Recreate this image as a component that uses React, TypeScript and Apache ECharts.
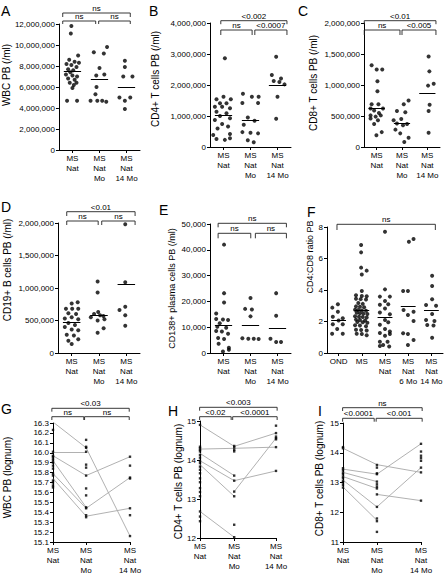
import React, { useEffect, useRef } from "react";
import * as echarts from "echarts";

const FONT = "'Liberation Sans', Arial, Helvetica, sans-serif";

// ---------- categories ----------
const CATS_3 = ["MS\nNat", "MS\nNat\nMo", "MS\nNat\n14 Mo"];
const CATS_F = ["OND", "MS", "MS\nNat", "MS\nNat\n6 Mo", "MS\nNat\n14 Mo"];

// ---------- A: WBC (millions /ml) ----------
const A_NAT = [11.8, 11.1, 9.0, 8.6, 8.4, 8.3, 8.2, 8.1, 7.9, 7.7, 7.6, 7.4, 7.2, 7.1, 7.0, 6.8, 6.7, 6.4, 6.4, 6.2, 5.9, 4.7, 4.7];
const A_NAT_DX = [-0.04, -0.06, 0.21, -0.12, 0.08, 0.24, -0.22, -0.04, 0.15, -0.16, 0.03, -0.08, -0.24, 0.0, 0.17, -0.16, 0.08, -0.1, 0.15, 0.05, 0.0, -0.2, 0.17];
const A_MO = [9.8, 9.3, 9.2, 7.8, 7.2, 7.1, 6.0, 5.3, 4.7, 4.7, 4.7, 4.6];
const A_MO_DX = [0.28, -0.21, 0.16, 0.0, 0.18, -0.12, -0.11, -0.15, -0.33, -0.08, 0.1, 0.25];
const A_14 = [8.5, 7.9, 7.0, 7.0, 5.0, 5.0, 4.7, 3.9];
const A_14_DX = [-0.06, -0.06, -0.12, 0.22, -0.26, 0.14, -0.06, -0.06];
const A_MED = [7.5, 6.7, 6.0];

// ---------- B: CD4+ (millions /ml) ----------
const B_NAT = [2.86, 1.62, 1.54, 1.54, 1.41, 1.41, 1.3, 1.3, 1.25, 1.14, 1.09, 1.0, 0.93, 0.87, 0.74, 0.66, 0.6, 0.42, 0.39, 0.28, 0.26, 0.23];
const B_NAT_DX = [0.05, 0, 0.27, -0.26, -0.13, 0.11, -0.32, -0.05, 0.24, -0.26, 0.11, -0.13, 0.24, -0.32, -0.05, 0.17, -0.22, 0.24, -0.38, 0.24, -0.26, 0.05];
const B_MO = [1.72, 1.62, 1.62, 1.42, 1.42, 0.95, 0.85, 0.72, 0.48, 0.46, 0.44, 0.22, 0.15];
const B_MO_DX = [-0.28, 0.05, 0.3, -0.3, 0.28, -0.1, 0.15, -0.25, -0.3, 0.0, 0.28, -0.1, 0.12];
const B_14 = [2.91, 2.32, 2.21, 2.13, 2.1, 2.02, 1.62, 0.91];
const B_14_DX = [-0.05, -0.21, 0.13, -0.14, 0.07, 0.26, 0, -0.05];
const B_MED = [1.04, 0.85, 2.0];

// ---------- C: CD8+ (millions /ml) ----------
const C_NAT = [1.32, 1.25, 1.25, 1.06, 0.9, 0.69, 0.69, 0.62, 0.62, 0.59, 0.55, 0.51, 0.49, 0.51, 0.46, 0.43, 0.37, 0.24, 0.19];
const C_NAT_DX = [-0.2, 0, 0.22, 0.03, 0.03, -0.2, 0.07, -0.24, 0.25, -0.1, 0.09, -0.24, -0.04, 0.16, -0.24, 0.05, -0.1, 0.2, -0.01];
const C_MO = [0.75, 0.69, 0.58, 0.56, 0.45, 0.43, 0.38, 0.37, 0.35, 0.28, 0.22, 0.15, 0.08];
const C_MO_DX = [0.26, 0.07, -0.2, 0.13, -0.03, -0.33, -0.2, 0.2, 0.04, -0.26, -0.07, 0.26, 0.09];
const C_14 = [1.46, 1.22, 1.02, 0.99, 0.68, 0.58, 0.23];
const C_14_DX = [0.05, 0.08, 0.25, 0.03, 0.09, 0.05, 0.05];
const C_MED = [0.63, 0.38, 0.87];

// ---------- D: CD19+ (millions /ml) ----------
const D_NAT = [0.78, 0.76, 0.68, 0.68, 0.68, 0.61, 0.6, 0.55, 0.53, 0.52, 0.46, 0.43, 0.4, 0.36, 0.35, 0.28, 0.27, 0.21, 0.19, 0.14];
const D_NAT_DX = [0.22, 0, -0.21, 0.02, 0.24, -0.12, 0.16, 0, -0.25, 0.24, -0.12, 0.12, -0.25, 0, 0.24, -0.18, 0.08, 0.24, -0.12, 0];
const D_MO = [1.1, 0.93, 0.63, 0.6, 0.58, 0.57, 0.55, 0.52, 0.5, 0.38, 0.31];
const D_MO_DX = [-0.05, -0.05, -0.03, -0.18, 0.04, 0.16, -0.3, 0.2, -0.05, 0.17, -0.05];
const D_14 = [1.98, 1.09, 0.71, 0.66, 0.58, 0.42];
const D_14_DX = [-0.04, -0.04, -0.04, -0.25, -0.04, -0.04];
const D_MED = [0.47, 0.58, 1.06];

// ---------- E: CD138+ (thousands /ml) ----------
const E_NAT = [42, 23.2, 19.6, 15.3, 13.2, 13.0, 12.8, 11.5, 10.2, 9.8, 8.5, 8.3, 7.5, 5.8, 5.4, 3.6, 2.0, 1.3, 0.6];
const E_NAT_DX = [0.02, 0.02, 0.02, -0.27, -0.27, -0.02, 0.17, -0.14, -0.23, 0.1, -0.27, -0.06, 0.17, -0.2, 0.02, -0.18, 0.2, 0.2, -0.02];
const E_MO = [21.3, 17.1, 16.9, 14.2, 5.7, 5.5, 5.5, 5.4];
const E_MO_DX = [0.0, -0.2, 0.05, 0.0, -0.3, -0.08, 0.12, 0.3];
const E_14 = [23.2, 14.4, 5.5, 4.3, 4.3];
const E_14_DX = [-0.05, -0.05, -0.26, -0.05, 0.13];
const E_MED = [10.6, 10.6, 9.7];

// ---------- F: CD4:CD8 ratio ----------
const F_OND = [3.1, 2.88, 2.62, 2.3, 2.2, 2.07, 1.82, 1.82, 1.52, 1.22, 1.22];
const F_OND_DX = [-0.03, -0.27, -0.03, -0.25, 0.18, 0.0, -0.25, 0.18, -0.06, -0.28, 0.18];
const F_MS = [6.86, 6.39, 5.42, 5.23, 4.99, 3.94, 3.66, 3.62, 3.6, 3.45, 3.42, 3.4, 3.17, 3.12, 2.96, 2.93, 2.9, 2.75, 2.73, 2.7, 2.68, 2.55, 2.52, 2.5, 2.47, 2.33, 2.3, 2.28, 2.26, 2.12, 2.1, 2.06, 1.97, 1.95, 1.92, 1.76, 1.74, 1.7, 1.48, 1.46, 1.43, 1.22, 1.2, 1.13];
const F_MS_DX = [-0.03, -0.03, -0.03, 0.21, 0, 0, -0.25, 0, 0.21, -0.25, -0.05, 0.18, -0.15, 0.04, -0.25, -0.08, 0.1, -0.29, -0.15, 0, 0.18, -0.22, -0.08, 0.07, 0.24, -0.29, -0.12, 0.04, 0.21, -0.25, -0.08, 0.14, -0.19, 0.04, 0.24, -0.29, -0.08, 0.18, -0.25, -0.03, 0.21, -0.22, 0, 0.21];
const F_NAT = [7.7, 4.04, 3.58, 3.58, 3.3, 3.1, 3.07, 2.83, 2.57, 2.46, 2.1, 1.95, 1.8, 1.52, 1.36, 1.27, 1.2, 1.1, 0.72, 0.72, 0.51, 0.45, 0.41];
const F_NAT_DX = [0, 0, -0.22, 0.21, 0, 0.14, -0.22, 0, -0.22, 0.21, 0, 0.14, -0.22, 0, 0.21, -0.22, 0.21, 0, -0.22, 0.11, -0.08, -0.22, 0.18];
const F_6 = [7.24, 7.07, 3.94, 3.94, 2.73, 2.62, 2.41, 2.03, 1.25, 1.2, 0.83, 0.51];
const F_6_DX = [0.23, 0.03, -0.22, -0.01, -0.2, 0.23, -0.01, 0.23, -0.22, -0.01, 0.23, -0.01];
const F_14 = [4.91, 4.25, 3.41, 3.05, 3.0, 2.48, 2.1, 2.03, 1.78, 1.74, 0.97];
const F_14_DX = [0.03, 0.03, 0.03, -0.23, 0.2, 0.03, -0.23, 0.13, -0.18, 0.09, 0.03];
const F_MED = [2.07, 2.73, 2.24, 2.94, 2.69];

// ---------- G: WBC lognum ----------
const G_NAT = [16.31, 16.23, 16.01, 15.97, 15.96, 15.94, 15.92, 15.9, 15.87, 15.84, 15.79, 15.77, 15.72, 15.7, 15.67, 15.65];
const G_MO = [16.13, 16.06, 16.05, 16.01, 15.88, 15.85, 15.77, 15.64, 15.57, 15.45, 15.44, 15.37, 15.35];
const G_14 = [15.96, 15.87, 15.75, 15.74, 15.44, 15.37, 15.16];
const G_PAIRS_1 = [[16.31, 16.05], [16.01, 16.01], [15.97, 15.77], [15.92, 15.45], [15.79, 15.44], [15.74, 15.36]];
const G_PAIRS_2 = [[16.05, 15.16], [15.77, 15.96], [15.44, 15.75], [15.36, 15.44]];

// ---------- H: CD4+ lognum ----------
const H_NAT = [14.9, 14.34, 14.3, 14.26, 14.22, 14.13, 14.06, 13.98, 13.92, 13.83, 13.75, 13.66, 13.53, 13.43, 13.28, 13.18, 13.07, 12.68, 12.55, 12.43];
const H_MO = [14.36, 14.32, 14.26, 14.22, 13.6, 13.47, 13.19, 13.07, 12.34, 12.02];
const H_14 = [14.88, 14.69, 14.6, 14.56, 14.53, 14.33, 13.72];
const H_PAIRS_1 = [[14.9, 14.35], [14.28, 14.3], [14.17, 13.6], [13.98, 13.47], [13.88, 13.07], [12.68, 12.02]];
const H_PAIRS_2 = [[14.35, 14.69], [14.3, 14.33], [13.47, 13.72], [13.19, 14.56]];

// ---------- I: CD8+ lognum ----------
const I_NAT = [14.19, 14.15, 13.48, 13.42, 13.34, 13.28, 13.2, 13.14, 13.05, 13.0, 12.92, 12.83];
const I_MO = [13.59, 13.5, 13.31, 13.28, 13.03, 12.94, 12.86, 12.8, 12.6, 12.18, 11.79, 11.7, 11.34];
const I_14 = [14.3, 14.04, 13.9, 13.82, 13.73, 13.5, 13.34, 12.39];
const I_PAIRS_1 = [[14.15, 13.6], [13.45, 13.28], [13.34, 13.03], [13.2, 12.8], [13.08, 12.18], [12.85, 11.73]];
const I_PAIRS_2 = [[13.6, 13.34], [13.28, 14.3], [12.6, 12.39], [12.18, 13.5]];

// ---------- significance labels ----------
const SIG_A = ["ns", "ns", "ns"];
const SIG_B = ["<0.002", "ns", "<0.0007"];
const SIG_C = ["<0.01", "ns", "<0.005"];
const SIG_D = ["<0.01", "ns", "ns"];
const SIG_E = ["ns", "ns", "ns"];
const SIG_F = ["ns"];
const SIG_G = ["<0.03", "ns", "ns"];
const SIG_H = ["<0.003", "<0.02", "<0.0001"];
const SIG_I = ["ns", "<0.0001", "<0.001"];

type Bracket = { x1: number; x2: number; dy: number; leg: number };
type Panel = {
  letter: string; lx: number; ly: number;
  left: number; top: number; width: number; height: number;
  yMin: number; yMax: number; yInt: number; unit: number; yFmt: (v: number) => string;
  yName: string; nameGap: number; namePad: number[]; nameSize: number;
  cats: string[]; pos: number[]; xMin: number; xMax: number;
  groups: { values: number[]; dx?: number[] }[];
  medians?: number[];
  pairs?: { from: number; to: number; list: number[][] }[];
  brackets: Bracket[]; sig: string[];
};

const commas = (v: number) => String(Math.round(v)).replace(/\B(?=(\d{3})+(?!\d))/g, ",");

const panels: Panel[] = [
  {
    letter: "A", lx: 1, ly: 4, left: 58, top: 24, width: 82, height: 126,
    yMin: 0, yMax: 12e6, yInt: 2e6, unit: 1e6, yFmt: commas,
    yName: "WBC PB (/ml)", nameGap: 46, namePad: [0, 0, 0, 24], nameSize: 10,
    cats: CATS_3, pos: [0, 1, 2], xMin: -0.5, xMax: 2.5,
    groups: [{ values: A_NAT, dx: A_NAT_DX }, { values: A_MO, dx: A_MO_DX }, { values: A_14, dx: A_14_DX }],
    medians: A_MED,
    brackets: [{ x1: -0.36, x2: 2.14, dy: -11, leg: 4 }, { x1: -0.36, x2: 0.86, dy: -3, leg: 3 }, { x1: 0.97, x2: 2.14, dy: -3, leg: 3 }],
    sig: SIG_A,
  },
  {
    letter: "B", lx: 149, ly: 4, left: 210, top: 23, width: 81, height: 124,
    yMin: 0, yMax: 4e6, yInt: 1e6, unit: 1e6, yFmt: commas,
    yName: "CD4+ T cells PB (/ml)", nameGap: 50, namePad: [0, 0, 0, 12], nameSize: 10,
    cats: CATS_3, pos: [0, 1, 2], xMin: -0.5, xMax: 2.5,
    groups: [{ values: B_NAT, dx: B_NAT_DX }, { values: B_MO, dx: B_MO_DX }, { values: B_14, dx: B_14_DX }],
    medians: B_MED,
    brackets: [{ x1: -0.1, x2: 2.35, dy: -2.3, leg: 3.5 }, { x1: -0.1, x2: 1.06, dy: 7, leg: 5 }, { x1: 1.16, x2: 2.35, dy: 7, leg: 5 }],
    sig: SIG_B,
  },
  {
    letter: "C", lx: 298, ly: 4, left: 364, top: 23, width: 76, height: 124,
    yMin: 0, yMax: 2e6, yInt: 5e5, unit: 1e6, yFmt: commas,
    yName: "CD8+ T cells PB (/ml)", nameGap: 46, namePad: [0, 0, 0, 4], nameSize: 10,
    cats: CATS_3, pos: [0, 1, 2], xMin: -0.5, xMax: 2.5,
    groups: [{ values: C_NAT, dx: C_NAT_DX }, { values: C_MO, dx: C_MO_DX }, { values: C_14, dx: C_14_DX }],
    medians: C_MED,
    brackets: [{ x1: -0.49, x2: 2.34, dy: -2.3, leg: 3.5 }, { x1: -0.49, x2: 0.92, dy: 7, leg: 5 }, { x1: 1.0, x2: 2.34, dy: 7, leg: 5 }],
    sig: SIG_C,
  },
  {
    letter: "D", lx: 1, ly: 200, left: 58, top: 223, width: 82, height: 130,
    yMin: 0, yMax: 2e6, yInt: 5e5, unit: 1e6, yFmt: commas,
    yName: "CD19+ B cells PB (/ml)", nameGap: 46, namePad: [0, 0, 0, 36], nameSize: 10,
    cats: CATS_3, pos: [0, 1, 2], xMin: -0.5, xMax: 2.5,
    groups: [{ values: D_NAT, dx: D_NAT_DX }, { values: D_MO, dx: D_MO_DX }, { values: D_14, dx: D_14_DX }],
    medians: D_MED,
    brackets: [{ x1: -0.18, x2: 2.32, dy: -11.3, leg: 4.3 }, { x1: -0.18, x2: 0.97, dy: -2, leg: 4 }, { x1: 1.1, x2: 2.32, dy: -2, leg: 4 }],
    sig: SIG_D,
  },
  {
    letter: "E", lx: 159, ly: 203, left: 210, top: 224, width: 81, height: 129,
    yMin: 0, yMax: 50000, yInt: 10000, unit: 1e3, yFmt: commas,
    yName: "CD138+ plasma cells PB (/ml)", nameGap: 34, namePad: [0, 0, 0, 0], nameSize: 9,
    cats: CATS_3, pos: [0, 1, 2], xMin: -0.5, xMax: 2.5,
    groups: [{ values: E_NAT, dx: E_NAT_DX }, { values: E_MO, dx: E_MO_DX }, { values: E_14, dx: E_14_DX }],
    medians: E_MED,
    brackets: [{ x1: -0.2, x2: 2.33, dy: -0.7, leg: 4 }, { x1: -0.2, x2: 1.01, dy: 9.3, leg: 5 }, { x1: 1.18, x2: 2.33, dy: 9.3, leg: 5 }],
    sig: SIG_E,
  },
  {
    letter: "F", lx: 307, ly: 205, left: 327, top: 227, width: 116, height: 126,
    yMin: 0, yMax: 8, yInt: 2, unit: 1, yFmt: (v) => String(v),
    yName: "CD4:CD8 ratio PB", nameGap: 8, namePad: [0, 0, 0, 66], nameSize: 9,
    cats: CATS_F, pos: [0, 1, 2, 3, 4], xMin: -0.5, xMax: 4.5,
    groups: [{ values: F_OND, dx: F_OND_DX }, { values: F_MS, dx: F_MS_DX }, { values: F_NAT, dx: F_NAT_DX }, { values: F_6, dx: F_6_DX }, { values: F_14, dx: F_14_DX }],
    medians: F_MED,
    brackets: [{ x1: -0.07, x2: 4.17, dy: -2.7, leg: 5.7 }],
    sig: SIG_F,
  },
  {
    letter: "G", lx: 1, ly: 402, left: 53, top: 423, width: 77, height: 119,
    yMin: 15.1, yMax: 16.3, yInt: 0.1, unit: 1, yFmt: (v) => v.toFixed(1),
    yName: "WBC PB (lognum)", nameGap: 41, namePad: [0, 0, 0, 10], nameSize: 10,
    cats: CATS_3, pos: [0, 0.86, 2], xMin: 0, xMax: 2,
    groups: [{ values: G_NAT }, { values: G_MO }, { values: G_14 }],
    pairs: [{ from: 0, to: 1, list: G_PAIRS_1 }, { from: 1, to: 2, list: G_PAIRS_2 }],
    brackets: [{ x1: -0.03, x2: 1.98, dy: -14.7, leg: 3.4 }, { x1: -0.03, x2: 0.8, dy: -6.3, leg: 3.3 }, { x1: 0.82, x2: 1.98, dy: -6.3, leg: 3.3 }],
    sig: SIG_G,
  },
  {
    letter: "H", lx: 168, ly: 404, left: 200, top: 421, width: 76, height: 117,
    yMin: 12, yMax: 15, yInt: 1, unit: 1, yFmt: (v) => String(v),
    yName: "CD4+ T cells PB (lognum)", nameGap: 15, namePad: [0, 4, 0, 0], nameSize: 10,
    cats: CATS_3, pos: [0, 0.9, 2], xMin: 0, xMax: 2,
    groups: [{ values: H_NAT }, { values: H_MO }, { values: H_14 }],
    pairs: [{ from: 0, to: 1, list: H_PAIRS_1 }, { from: 1, to: 2, list: H_PAIRS_2 }],
    brackets: [{ x1: -0.01, x2: 2.03, dy: -13.7, leg: 3.4 }, { x1: -0.01, x2: 0.82, dy: -4.3, leg: 3.3 }, { x1: 0.86, x2: 2.03, dy: -4.3, leg: 3.3 }],
    sig: SIG_H,
  },
  {
    letter: "I", lx: 318, ly: 404, left: 343, top: 423, width: 78, height: 119,
    yMin: 11, yMax: 15, yInt: 1, unit: 1, yFmt: (v) => String(v),
    yName: "CD8+ T cells PB (lognum)", nameGap: 19, namePad: [0, 0, 0, 8], nameSize: 10,
    cats: CATS_3, pos: [0, 0.87, 2], xMin: 0, xMax: 2,
    groups: [{ values: I_NAT }, { values: I_MO }, { values: I_14 }],
    pairs: [{ from: 0, to: 1, list: I_PAIRS_1 }, { from: 1, to: 2, list: I_PAIRS_2 }],
    brackets: [{ x1: -0.01, x2: 2.03, dy: -15.3, leg: 3.3 }, { x1: -0.01, x2: 0.8, dy: -4.7, leg: 3.4 }, { x1: 0.85, x2: 2.03, dy: -4.7, leg: 3.4 }],
    sig: SIG_I,
  },
];

function buildOption() {
  const grid: any[] = [];
  const xAxis: any[] = [];
  const yAxis: any[] = [];
  const series: any[] = [];
  const graphic: any[] = [];
  const axisLine = { show: true, onZero: false, lineStyle: { color: "#000", width: 1 } };

  panels.forEach((p, i) => {
    grid.push({ left: p.left, top: p.top, width: p.width, height: p.height, containLabel: false });
    const nearest = (v: number) => {
      let best = 0;
      p.pos.forEach((q, k) => {
        if (Math.abs(q - v) < Math.abs(p.pos[best] - v)) best = k;
      });
      return p.cats[best];
    };
    xAxis.push({
      type: "value", gridIndex: i, min: p.xMin, max: p.xMax,
      axisLine,
      axisTick: { show: true, customValues: p.pos, length: 3, lineStyle: { color: "#000" } },
      axisLabel: {
        customValues: p.pos, formatter: (v: number) => nearest(v),
        fontSize: 8, lineHeight: 10, margin: 3, color: "#000", fontFamily: FONT,
      },
      splitLine: { show: false },
    });
    yAxis.push({
      type: "value", gridIndex: i, min: p.yMin, max: p.yMax, interval: p.yInt,
      axisLine,
      axisTick: { show: true, length: 3, lineStyle: { color: "#000" } },
      axisLabel: { formatter: p.yFmt, fontSize: 8, margin: 4, color: "#000", fontFamily: FONT },
      splitLine: { show: false },
      name: p.yName, nameLocation: "middle", nameRotate: 90, nameGap: p.nameGap,
      nameTextStyle: { fontSize: p.nameSize, color: "#000", fontFamily: FONT, padding: p.namePad },
    });

    const paired = !!p.pairs;
    const pts: number[][] = [];
    p.groups.forEach((g, gi) =>
      g.values.forEach((v, k) => pts.push([p.pos[gi] + (g.dx ? g.dx[k] : 0), v * p.unit]))
    );

    if (p.pairs) {
      const segs: any[] = [];
      p.pairs.forEach((pr) =>
        pr.list.forEach(([a, b]) =>
          segs.push({ coords: [[p.pos[pr.from], a * p.unit], [p.pos[pr.to], b * p.unit]] })
        )
      );
      series.push({
        type: "lines", coordinateSystem: "cartesian2d", xAxisIndex: i, yAxisIndex: i,
        data: segs, silent: true, z: 2,
        lineStyle: { color: "#a8a8a8", width: 0.9, opacity: 1, curveness: 0 },
      });
    }

    series.push({
      type: "scatter", xAxisIndex: i, yAxisIndex: i, data: pts, silent: true, z: 3,
      symbol: paired ? "rect" : "circle", symbolSize: paired ? 2.4 : 4,
      itemStyle: { color: "#000" },
    });

    if (p.medians) {
      series.push({
        type: "lines", coordinateSystem: "cartesian2d", xAxisIndex: i, yAxisIndex: i,
        data: p.medians.map((m, gi) => ({
          coords: [[p.pos[gi] - 0.32, m * p.unit], [p.pos[gi] + 0.32, m * p.unit]],
        })),
        silent: true, z: 4,
        lineStyle: { color: "#000", width: 1, opacity: 1, curveness: 0 },
      });
    }

    series.push({
      type: "custom", xAxisIndex: i, yAxisIndex: i, silent: true, clip: false, z: 5,
      data: p.brackets.map((b) => [b.x1, b.x2]),
      renderItem: (params: any, api: any) => {
        const b = p.brackets[params.dataIndex];
        const cs = params.coordSys;
        const x1 = api.coord([b.x1, p.yMin])[0];
        const x2 = api.coord([b.x2, p.yMin])[0];
        const y = cs.y + b.dy;
        return {
          type: "group",
          children: [
            {
              type: "polyline",
              shape: { points: [[x1, y + b.leg], [x1, y], [x2, y], [x2, y + b.leg]] },
              style: { stroke: "#222", lineWidth: 0.9, fill: "none" },
            },
            {
              type: "text",
              x: (x1 + x2) / 2, y: y - 0.5,
              style: {
                text: p.sig[params.dataIndex], textAlign: "center", textVerticalAlign: "bottom",
                align: "center", verticalAlign: "bottom",
                fontSize: 8, fontFamily: FONT, fill: "#000",
              },
            },
          ],
        };
      },
    });

    graphic.push({
      type: "text", x: p.lx, y: p.ly, silent: true,
      style: { text: p.letter, fontSize: 14, fontFamily: FONT, fill: "#000", textVerticalAlign: "top", verticalAlign: "top" },
    });
  });

  return { animation: false, backgroundColor: "#fff", grid, xAxis, yAxis, series, graphic };
}

export default function App() {
  const ref = useRef<HTMLDivElement>(null);
  useEffect(() => {
    if (!ref.current) return;
    const chart = echarts.init(ref.current, undefined, { renderer: "svg" });
    chart.setOption(buildOption() as any);
    return () => chart.dispose();
  }, []);
  return (
    <div
      ref={ref}
      style={{ position: "absolute", left: 0, top: 0, width: 446, height: 575, background: "#fff" }}
    />
  );
}
